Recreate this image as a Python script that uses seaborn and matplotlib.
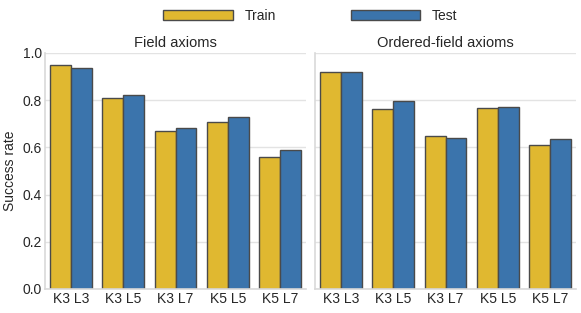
import matplotlib
matplotlib.use("Agg")
import matplotlib.pyplot as plt
import seaborn as sns
import pandas as pd
from matplotlib.patches import Patch

configs = ["K3 L3", "K3 L5", "K3 L7", "K5 L5", "K5 L7"]
field_train = [0.949, 0.809, 0.669, 0.709, 0.558]
field_test = [0.935, 0.823, 0.681, 0.730, 0.589]
ordered_train = [0.918, 0.761, 0.650, 0.766, 0.609]
ordered_test = [0.921, 0.795, 0.640, 0.773, 0.634]
panels = ["Field axioms", "Ordered-field axioms"]
splits = ["Train", "Test"]
colors = {"Train": "#E0B830", "Test": "#3B74AC"}

rows = []
for panel, tr, te in [(panels[0], field_train, field_test), (panels[1], ordered_train, ordered_test)]:
    for c, a, b in zip(configs, tr, te):
        rows.append({"panel": panel, "config": c, "split": "Train", "rate": a})
        rows.append({"panel": panel, "config": c, "split": "Test", "rate": b})
df = pd.DataFrame(rows)

sns.set_theme(style="whitegrid")
plt.rcParams["font.family"] = ["Liberation Sans", "DejaVu Sans"]
plt.rcParams["axes.edgecolor"] = "#d9d9d9"
plt.rcParams["grid.color"] = "#e3e3e3"

fig, axes = plt.subplots(1, 2, figsize=(5.81, 3.13), dpi=100, sharey=True)
fig.subplots_adjust(left=0.0775, right=0.9914, bottom=0.0767, top=0.8307, wspace=0.0345)

for ax, panel in zip(axes, panels):
    sub = df[df["panel"] == panel]
    sns.barplot(data=sub, x="config", y="rate", hue="split", hue_order=splits,
                order=configs, palette=colors, edgecolor="#4a4a4a", linewidth=1.0,
                saturation=1, ax=ax, legend=False, width=0.8)
    ax.set_title(panel, fontsize=10.5, pad=4)
    ax.set_xlabel("")
    ax.set_ylim(0, 1.0)
    ax.set_yticks([0, 0.2, 0.4, 0.6, 0.8, 1.0])
    ax.tick_params(axis="both", labelsize=10, pad=2, length=0)
    for s in ["top", "right"]:
        ax.spines[s].set_visible(False)
    for s in ["left", "bottom"]:
        ax.spines[s].set_color("#d9d9d9")
        ax.spines[s].set_linewidth(1.2)
    ax.set_xlim(-0.5, 4.5)

axes[0].set_ylabel("Success rate", fontsize=10, labelpad=4)
axes[1].set_ylabel("")
axes[1].tick_params(axis="y", labelleft=False)

handles = [Patch(facecolor=colors[s], edgecolor="#4a4a4a", linewidth=1.0) for s in splits]
fig.legend(handles, splits, loc="center", ncol=2, frameon=False,
           bbox_to_anchor=(0.534, 0.949), fontsize=10, handlelength=5.0,
           handleheight=0.75, columnspacing=5.4, handletextpad=0.85)

fig.savefig("out.png", dpi=100)
